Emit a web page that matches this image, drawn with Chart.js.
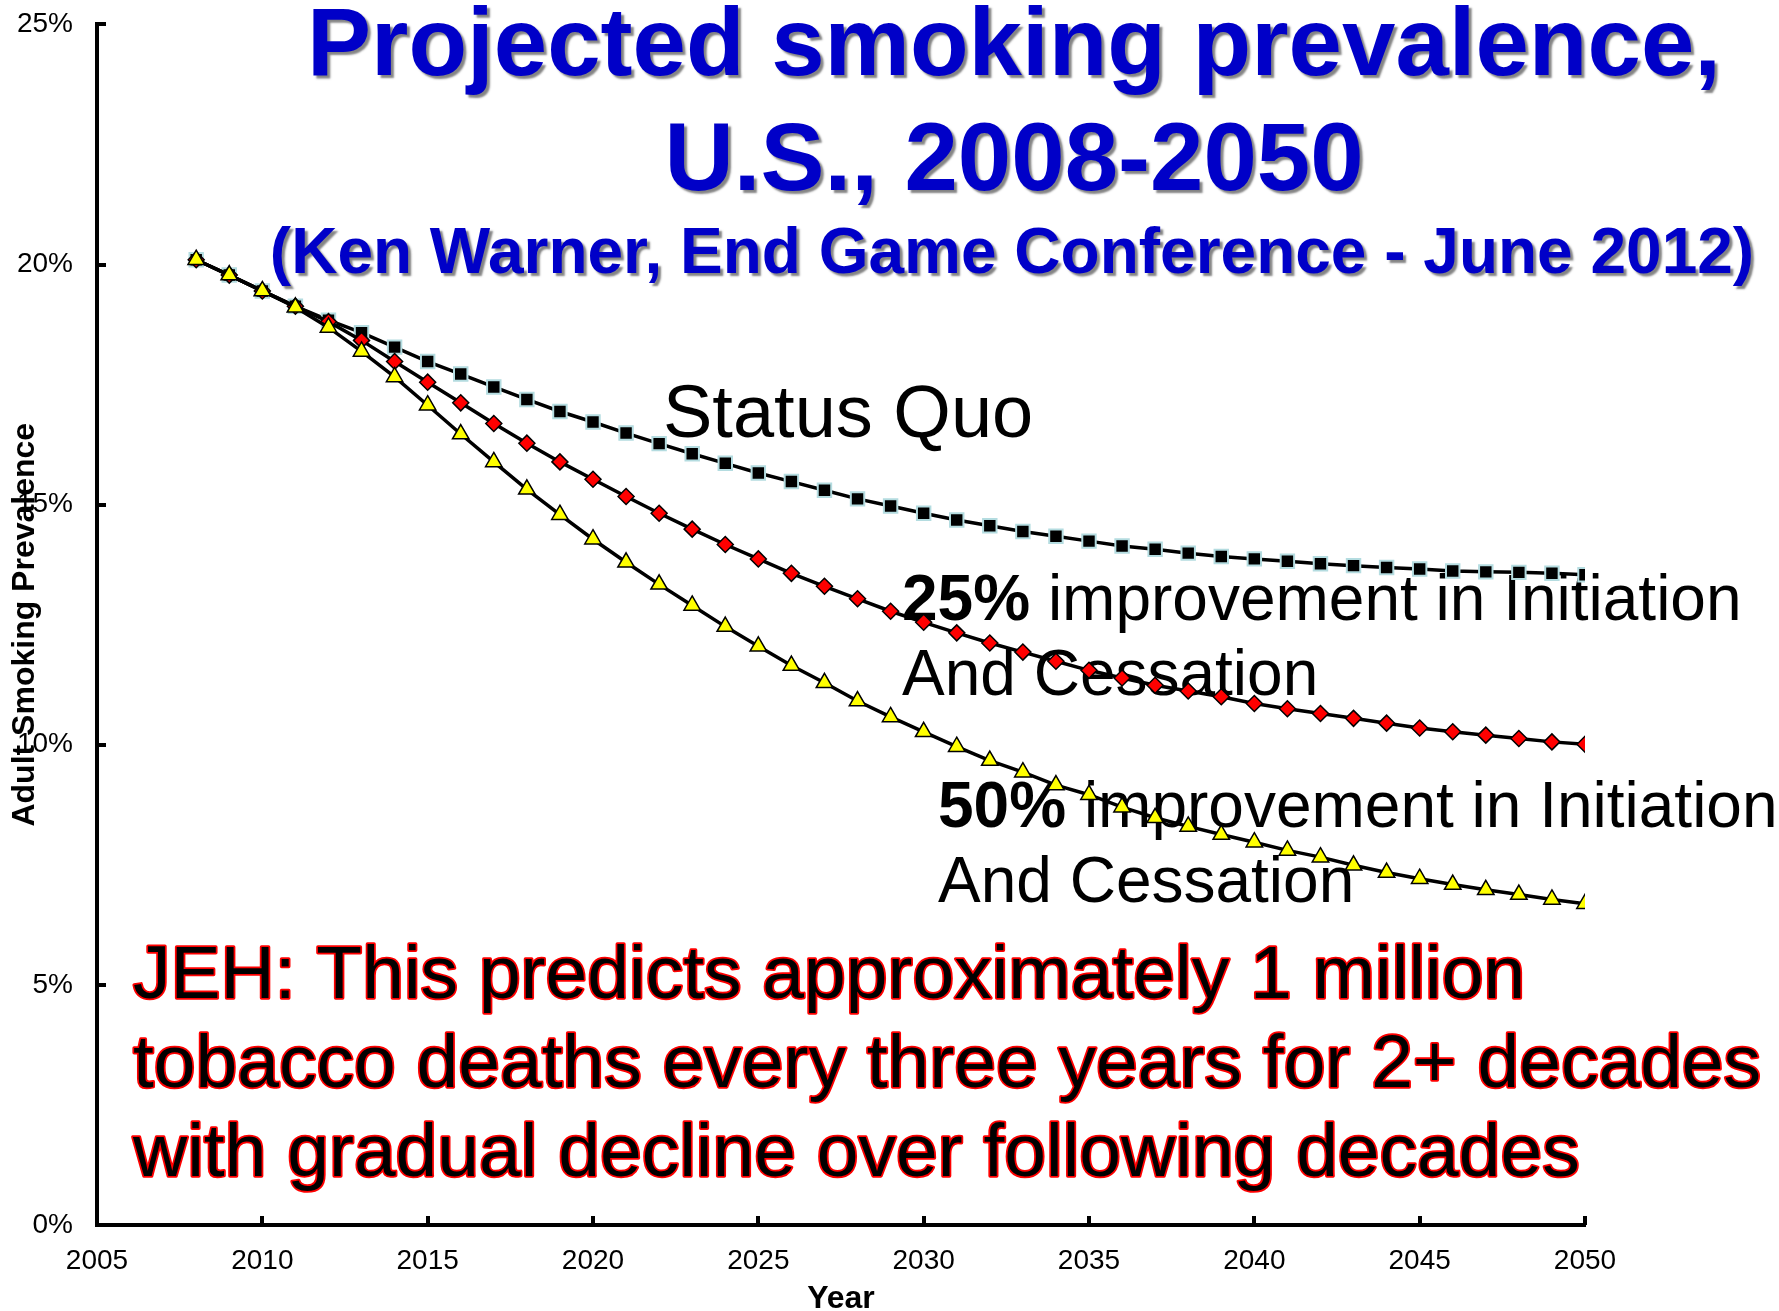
<!DOCTYPE html>
<html><head><meta charset="utf-8">
<script src="https://cdn.jsdelivr.net/npm/chart.js@4.4.1/dist/chart.umd.min.js"></script>
<style>html,body{margin:0;padding:0;background:#fff;overflow:hidden}#wrap{width:1779px;height:1311px;position:relative}</style>
</head><body><div id="wrap"><canvas id="c" width="1779" height="1311"></canvas></div>
<script>
const years = [2008,2009,2010,2011,2012,2013,2014,2015,2016,2017,2018,2019,2020,2021,2022,2023,2024,2025,2026,2027,2028,2029,2030,2031,2032,2033,2034,2035,2036,2037,2038,2039,2040,2041,2042,2043,2044,2045,2046,2047,2048,2049,2050];
const statusQuo = [20.10,19.78,19.45,19.13,18.84,18.58,18.28,17.98,17.72,17.45,17.19,16.94,16.72,16.49,16.27,16.06,15.86,15.66,15.48,15.30,15.12,14.97,14.82,14.68,14.56,14.44,14.34,14.24,14.14,14.07,13.99,13.92,13.87,13.82,13.77,13.73,13.69,13.66,13.62,13.60,13.59,13.57,13.54];
const improve25 = [20.10,19.78,19.45,19.13,18.81,18.42,17.98,17.55,17.12,16.69,16.28,15.89,15.53,15.17,14.82,14.49,14.17,13.87,13.57,13.30,13.04,12.78,12.55,12.33,12.12,11.93,11.74,11.55,11.39,11.24,11.12,11.00,10.86,10.75,10.65,10.55,10.45,10.35,10.27,10.20,10.13,10.06,10.01];
const improve50 = [20.10,19.78,19.45,19.11,18.69,18.19,17.66,17.07,16.47,15.89,15.32,14.79,14.28,13.80,13.34,12.90,12.46,12.05,11.65,11.29,10.91,10.58,10.27,9.96,9.67,9.43,9.16,8.96,8.70,8.48,8.30,8.13,7.97,7.80,7.66,7.49,7.34,7.21,7.09,6.98,6.88,6.78,6.69];
const xTickValues = [2005,2010,2015,2020,2025,2030,2035,2040,2045,2050];
const yTickValues = [0,5,10,15,20,25];
const titleLines = ["Projected smoking prevalence,", "U.S., 2008-2050", "(Ken Warner, End Game Conference - June 2012)"];
const xAxisTitle = "Year";
const yAxisTitle = "Adult Smoking Prevalence";
const labelStatusQuo = "Status Quo";
const label25 = ["25%", " improvement in Initiation", "And Cessation"];
const label50 = ["50%", " improvement in Initiation", "And Cessation"];
const noteLines = ["JEH: This predicts approximately 1 million", "tobacco deaths every three years for 2+ decades", "with gradual decline over following decades"];

const FONT = "'Liberation Sans', Arial, Helvetica, sans-serif";
Chart.defaults.font.family = FONT;
Chart.defaults.color = '#000';

const toXY = arr => years.map((yr, i) => ({x: yr, y: arr[i]}));

const textPlugin = {
  id: 'texts',
  beforeDatasetsDraw(chart) {
    const ctx = chart.ctx;
    ctx.save();
    ctx.fillStyle = '#000';
    ctx.textBaseline = 'alphabetic';
    ctx.textAlign = 'left';
    ctx.font = `74px ${FONT}`;
    ctx.fillText(labelStatusQuo, 663, 437);
    const two = (lab, x, y1, y2) => {
      ctx.font = `bold 64px ${FONT}`;
      ctx.fillText(lab[0], x, y1);
      const w = ctx.measureText(lab[0]).width;
      ctx.font = `64px ${FONT}`;
      ctx.fillText(lab[1], x + w, y1);
      ctx.fillText(lab[2], x, y2);
    };
    two(label25, 902, 620, 695);
    two(label50, 938, 827, 902);
    ctx.font = `75px ${FONT}`;
    ctx.lineJoin = 'round';
    ctx.lineWidth = 3.5;
    ctx.strokeStyle = '#ff0000';
    const base = [998, 1087, 1176];
    noteLines.forEach((t, i) => {
      ctx.strokeText(t, 133, base[i]);
      ctx.fillText(t, 133, base[i]);
    });
    ctx.restore();
  },
  afterDraw(chart) {
    const ctx = chart.ctx;
    const xs = chart.scales.x, ys = chart.scales.y;
    const ca = chart.chartArea;
    ctx.save();
    ctx.strokeStyle = '#000';
    ctx.lineWidth = 4;
    ctx.beginPath();
    xTickValues.forEach(v => {
      if (v === xTickValues[0]) return;
      const px = Math.round(xs.getPixelForValue(v));
      ctx.moveTo(px, ca.bottom);
      ctx.lineTo(px, ca.bottom - 9);
    });
    yTickValues.forEach(v => {
      if (v === yTickValues[0]) return;
      const py = Math.round(ys.getPixelForValue(v));
      ctx.moveTo(ca.left, py);
      ctx.lineTo(ca.left + 9, py);
    });
    ctx.stroke();
    ctx.textAlign = 'center';
    ctx.textBaseline = 'alphabetic';
    ctx.shadowColor = 'rgba(110,110,110,0.85)';
    ctx.shadowOffsetX = 3;
    ctx.shadowOffsetY = 3;
    ctx.shadowBlur = 2;
    ctx.fillStyle = '#0000C8';
    ctx.font = `bold 96px ${FONT}`;
    ctx.fillText(titleLines[0], 1014, 75);
    ctx.fillText(titleLines[1], 1014, 190);
    ctx.font = `bold 64px ${FONT}`;
    ctx.fillText(titleLines[2], 1012, 273);
    ctx.restore();
  }
};

new Chart(document.getElementById('c'), {
  type: 'line',
  data: {
    datasets: [
      {label: '50% improvement', data: toXY(improve50), borderColor: '#000', borderWidth: 3.5,
       pointStyle: 'triangle', pointRadius: 9.5, pointBackgroundColor: '#FFFF00', pointBorderColor: '#000', pointBorderWidth: 1.5, tension: 0},
      {label: '25% improvement', data: toXY(improve25), borderColor: '#000', borderWidth: 3.5,
       pointStyle: 'rectRot', pointRadius: 8, pointBackgroundColor: '#FF0000', pointBorderColor: '#000', pointBorderWidth: 1.5, tension: 0},
      {label: 'Status Quo', data: toXY(statusQuo), borderColor: '#000', borderWidth: 3.5,
       pointStyle: 'rect', pointRadius: 9.5, pointBackgroundColor: '#000', pointBorderColor: '#B4DCE0', pointBorderWidth: 2, tension: 0}
    ]
  },
  options: {
    responsive: false,
    animation: false,
    events: [],
    layout: {autoPadding: false, padding: {left: 0, right: 194, top: 10, bottom: 0}},
    plugins: {legend: {display: false}, tooltip: {enabled: false}, title: {display: false}},
    scales: {
      x: {
        type: 'linear', min: 2005, max: 2050,
        afterBuildTicks: s => { s.ticks = xTickValues.map(v => ({value: v})); },
        ticks: {font: {size: 28}, color: '#000', padding: 11, maxRotation: 0, autoSkip: false, callback: v => String(v)},
        grid: {display: false},
        border: {display: true, color: '#000', width: 4},
        title: {display: true, text: xAxisTitle, font: {size: 32, weight: 'bold', lineHeight: 0.75}, color: '#000', padding: {top: 0, bottom: 0}},
        afterFit: s => { s.height = 86; }
      },
      y: {
        type: 'linear', min: 0, max: 25,
        afterBuildTicks: s => { s.ticks = yTickValues.map(v => ({value: v})); },
        ticks: {font: {size: 28, lineHeight: 0.6}, color: '#000', padding: 16, callback: v => v + '%'},
        grid: {display: false},
        border: {display: true, color: '#000', width: 4},
        title: {display: true, text: yAxisTitle, font: {size: 32, weight: 'bold', lineHeight: 1}, color: '#000', padding: {top: 9, bottom: 0}},
        afterFit: s => { s.width = 97; }
      }
    }
  },
  plugins: [textPlugin]
});
</script>
</body></html>
